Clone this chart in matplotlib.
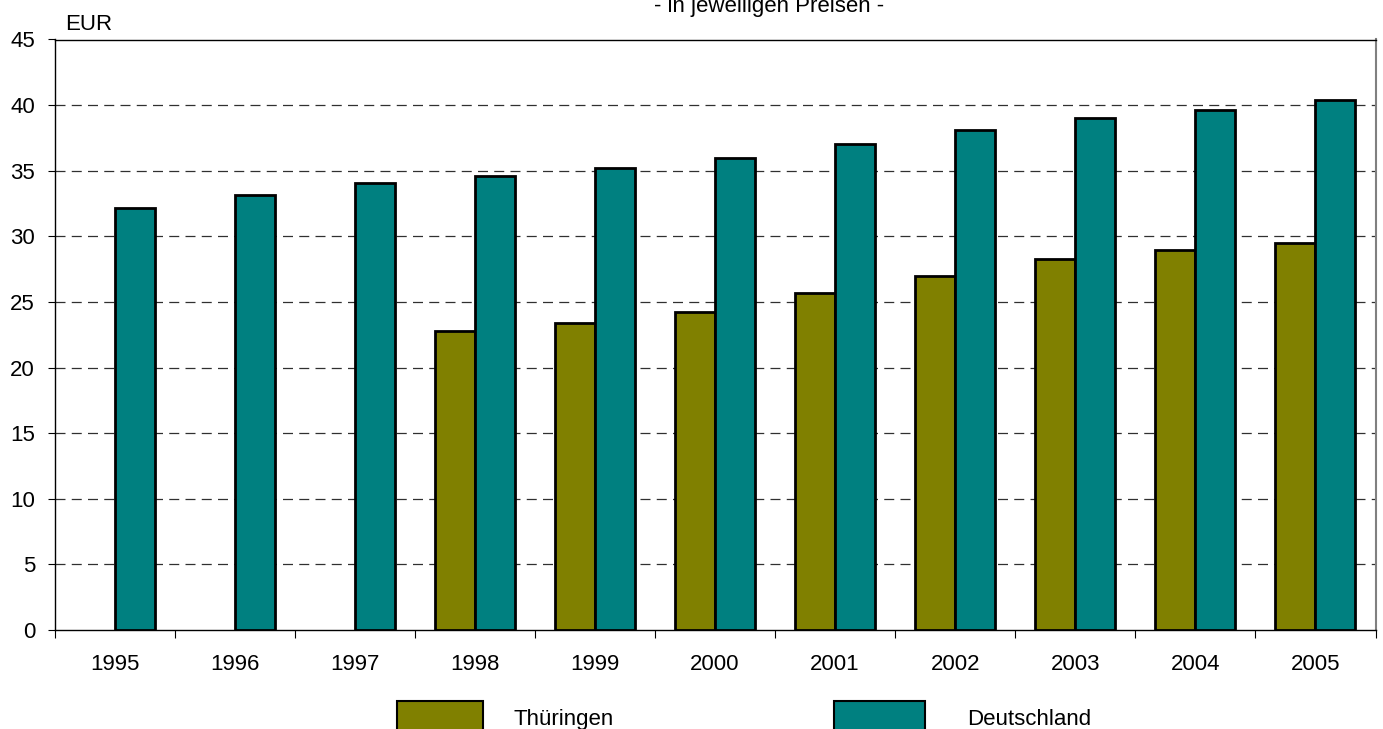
import numpy as np
import matplotlib.pyplot as plt
from matplotlib.patches import Rectangle

plt.rcParams['font.family'] = ['Liberation Sans', 'DejaVu Sans']

jahre = ['1995', '1996', '1997', '1998', '1999', '2000', '2001', '2002', '2003', '2004', '2005']
thueringen = [np.nan, np.nan, np.nan, 22.75, 23.4, 24.27, 25.65, 26.95, 28.3, 28.93, 29.49]
deutschland = [32.19, 33.18, 34.1, 34.63, 35.24, 35.94, 37.03, 38.14, 38.99, 39.63, 40.41]

farbe_th = '#808000'
farbe_de = '#008080'

W, H = 1383, 729
fig = plt.figure(figsize=(W / 100, H / 100), dpi=100)
# Achsenrahmen in Pixeln: links 54.5, rechts 1375.5, oben 39.5, unten 630
ax = fig.add_axes([54.5 / W, 1 - 630 / H, 1321 / W, 590.5 / H])

x = np.arange(len(jahre))
b = 1 / 3
ax.bar(x - b / 2, thueringen, b, color=farbe_th, edgecolor='black', linewidth=2, zorder=3)
ax.bar(x + b / 2, deutschland, b, color=farbe_de, edgecolor='black', linewidth=2, zorder=3)

ax.set_xlim(-0.5, len(jahre) - 0.5)
ax.set_ylim(0, 45)
ax.set_yticks(range(0, 46, 5))
ax.set_xticks(x)
ax.set_xticklabels(jahre, fontsize=16)
ax.set_xticks(np.arange(-0.5, len(jahre), 1), minor=True)
ax.tick_params(axis='x', which='major', length=0, pad=17)
ax.tick_params(axis='x', which='minor', length=5.5, direction='out', width=0.8)
ax.tick_params(axis='y', labelsize=16, length=5, direction='out', width=0.8, pad=9)

for v in range(5, 45, 5):
    ax.axhline(v, color='#303030', linestyle=(0, (8, 5)), linewidth=0.9, zorder=1)

for s in ['top', 'left', 'bottom']:
    ax.spines[s].set_color('black')
    ax.spines[s].set_linewidth(1)
ax.spines['right'].set_color('#808080')
ax.spines['right'].set_linewidth(1.5)

fig.text(65 / W, 1 - 30 / H, 'EUR', fontsize=16, ha='left', va='baseline')
fig.text(769 / W, 1 - 12 / H, '- in jeweiligen Preisen -', fontsize=16, ha='center', va='baseline')

# Legende unten (im Original am Bildrand abgeschnitten)
legende = [('Thüringen', farbe_th, 397, 86, 513), ('Deutschland', farbe_de, 834, 91, 967)]
for name, farbe, px, pw, tx in legende:
    fig.add_artist(Rectangle((px / W, 1 - 735 / H), pw / W, 34 / H, transform=fig.transFigure,
                             facecolor=farbe, edgecolor='black', linewidth=1.5))
    fig.text(tx / W, 1 - 725 / H, name, fontsize=16, ha='left', va='baseline')

fig.savefig('out.png', dpi=100)
